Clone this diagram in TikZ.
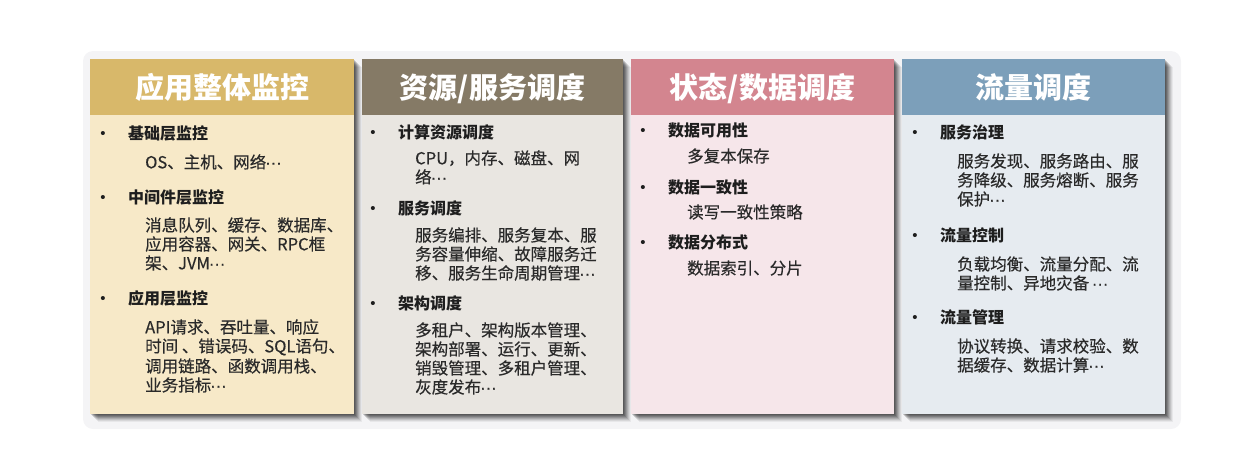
\documentclass[tikz,border=0pt]{standalone}
\usepackage{fontspec}
\setmainfont{Noto Sans CJK SC}
\newfontfamily\subfont[FakeBold=0.35]{Noto Sans CJK SC}
\newfontfamily\bulfont{Liberation Sans}
\newfontfamily\dotfont[FakeBold=0.5]{Liberation Sans}
\newcommand\mydots{{\dotfont\kern-1pt···}}
\definecolor{hA}{HTML}{D8B86A}
\definecolor{bA}{HTML}{F7E9C8}
\definecolor{hB}{HTML}{857A66}
\definecolor{bB}{HTML}{E9E6E1}
\definecolor{hC}{HTML}{D3858F}
\definecolor{bC}{HTML}{F6E6EA}
\definecolor{hD}{HTML}{7C9FBA}
\definecolor{bD}{HTML}{E6EBF0}
\definecolor{txtA}{HTML}{1E1E1E}
\definecolor{txtB}{HTML}{2A2A2A}
\definecolor{backdrop}{HTML}{F4F4F6}
\tikzset{
  ttl/.style={text=white,font=\fontsize{29}{32}\selectfont\bfseries,inner sep=0pt,anchor=base},
  lbl/.style={text=txtA,font=\fontsize{16}{19}\selectfont\bfseries,inner sep=0pt,anchor=base west,text height=13pt,text depth=2.5pt},
  bul/.style={text=txtA,font=\bulfont\fontsize{15}{17}\selectfont,inner sep=0pt,anchor=base},
  subl/.style={text=txtB,font=\subfont\fontsize{16.5}{19}\selectfont,inner sep=0pt,anchor=base west,text height=13pt,text depth=2.5pt},
}
% panel: name, x1, x2, header colour, body colour, title
\newcommand\mkpanel[6]{%
  \foreach \s/\o in {8/0.05,7/0.07,6/0.09,5/0.11,4/0.13,3/0.15,2/0.16,1/0.16}
    \fill[black,opacity=\o] (#2+\s,59+\s) rectangle (#3+\s,414+\s);
  \fill[#5] (#2,59) rectangle (#3,414);
  \fill[#4] (#2,59) rectangle (#3,115);
  \node[ttl] (#1) at ({(#2+#3)/2},98) {#6};
}
% item: name, bullet x, label x, centre y, text
\newcommand\mkitem[5]{%
  \node[bul] (#1b) at (#2,#4+5.5) {•};
  \node[lbl] (#1) at (#3,#4+6) {#5};
}
% sub line: name, x, centre y, text
\newcommand\mksub[4]{%
  \node[subl] (#1) at (#2,#3+6.3) {#4};
}
\begin{document}
\begin{tikzpicture}[x=1pt,y=-1pt]
\useasboundingbox (0,0) rectangle (1234,450);
\fill[backdrop,rounded corners=10] (83,51) rectangle (1181,429);
\mkpanel{pA}{90}{354}{hA}{bA}{应用整体监控}
\mkpanel{pB}{362}{623}{hB}{bB}{资源/服务调度}
\mkpanel{pC}{631}{894}{hC}{bC}{状态/数据调度}
\mkpanel{pD}{902}{1165}{hD}{bD}{流量调度}
% panel A
\mkitem{a1}{103}{128}{133}{基础层监控}
\mksub{a1s1}{145}{162}{OS、主机、网络\mydots}
\mkitem{a2}{103}{128}{197}{中间件层监控}
\mksub{a2s1}{145}{225}{消息队列、缓存、数据库、}
\mksub{a2s2}{145}{244}{应用容器、网关、RPC框}
\mksub{a2s3}{145}{263}{架、JVM\mydots}
\mkitem{a3}{103}{128}{298}{应用层监控}
\mksub{a3s1}{145}{327}{API请求、吞吐量、响应}
\mksub{a3s2}{145}{346}{时间 、错误码、SQL语句、}
\mksub{a3s3}{145}{366}{调用链路、函数调用栈、}
\mksub{a3s4}{145}{385}{业务指标\mydots}
% panel B
\mkitem{b1}{373}{398}{132}{计算资源调度}
\mksub{b1s1}{415}{158}{CPU，内存、磁盘、网}
\mksub{b1s2}{415}{177}{络\mydots}
\mkitem{b2}{373}{398}{208}{服务调度}
\mksub{b2s1}{415}{235}{服务编排、服务复本、服}
\mksub{b2s2}{415}{254}{务容量伸缩、故障服务迁}
\mksub{b2s3}{415}{273}{移、服务生命周期管理\mydots}
\mkitem{b3}{373}{398}{303}{架构调度}
\mksub{b3s1}{415}{330}{多租户、架构版本管理、}
\mksub{b3s2}{415}{349}{架构部署、运行、更新、}
\mksub{b3s3}{415}{368}{销毁管理、多租户管理、}
\mksub{b3s4}{415}{387}{灰度发布\mydots}
% panel C
\mkitem{c1}{643}{668}{130}{数据可用性}
\mksub{c1s1}{687}{156}{多复本保存}
\mkitem{c2}{643}{668}{187}{数据一致性}
\mksub{c2s1}{687}{212}{读写一致性策略}
\mkitem{c3}{643}{668}{242}{数据分布式}
\mksub{c3s1}{687}{268}{数据索引、分片}
% panel D
\mkitem{d1}{915}{940}{132}{服务治理}
\mksub{d1s1}{957}{161}{服务发现、服务路由、服}
\mksub{d1s2}{957}{180}{务降级、服务熔断、服务}
\mksub{d1s3}{957}{199}{保护\mydots}
\mkitem{d2}{915}{940}{235}{流量控制}
\mksub{d2s1}{957}{264}{负载均衡、流量分配、流}
\mksub{d2s2}{957}{283}{量控制、异地灾备 \mydots}
\mkitem{d3}{915}{940}{317}{流量管理}
\mksub{d3s1}{957}{346}{协议转换、请求校验、数}
\mksub{d3s2}{957}{365}{据缓存、数据计算\mydots}
\end{tikzpicture}
\end{document}
